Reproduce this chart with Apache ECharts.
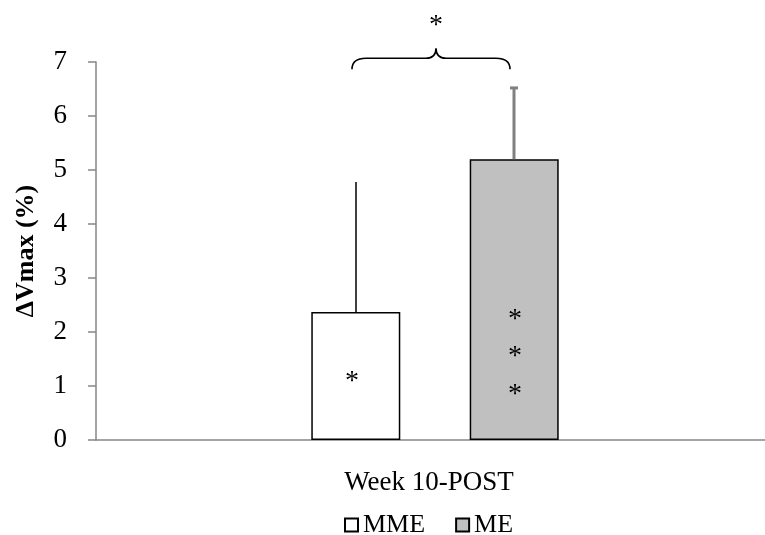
<!DOCTYPE html>
<html><head><meta charset="utf-8">
<script src="https://cdn.jsdelivr.net/npm/echarts@6/dist/echarts.min.js"></script>
<style>html,body{margin:0;padding:0;background:#fff}#c{width:765px;height:535px}</style>
</head><body><div id="c"></div>
<script>
const categories = ['Week 10-POST'];
const seriesNames = ['MME', 'ME'];
const mmeValues = [2.37];
const meValues = [5.2];
const mmeErrors = [2.41];
const meErrors = [1.32];
const yTicks = [0, 1, 2, 3, 4, 5, 6, 7];
const mmeStarY = [1.15];
const meStarY = [2.30, 1.61, 0.91];
const braceY = 7.07;

const FONT = '"Liberation Serif", "Times New Roman", serif';
const chart = echarts.init(document.getElementById('c'));
const BARW = 89, OFFSET = 79;

function errRender(off, color, w, cap) {
  return function (params, api) {
    const x = api.coord([api.value(0), 0])[0] + off;
    const top = api.coord([api.value(0), api.value(1) + api.value(2)])[1];
    const base = api.coord([api.value(0), api.value(1)])[1];
    const children = [{type: 'line', shape: {x1: x, y1: base, x2: x, y2: top}, style: {stroke: color, lineWidth: w}}];
    if (cap) children.push({type: 'line', shape: {x1: x - 4, y1: top, x2: x + 4, y2: top}, style: {stroke: color, lineWidth: 3}});
    return {type: 'group', children};
  };
}

function starRender(off) {
  return function (params, api) {
    const p = api.coord([api.value(0), api.value(1)]);
    return {type: 'text', x: p[0] + off, y: p[1] + 4,
      style: {text: '*', fontFamily: FONT, fontSize: 28, fill: '#000', align: 'center', verticalAlign: 'middle'}};
  };
}

function braceRender(params, api) {
  const cx = api.coord([api.value(0), 0])[0];
  const yt = api.coord([api.value(0), api.value(1)])[1];
  const xl = cx - 83, xr = cx + 75, xm = cx + 1;
  const yb = yt + 11, yp = yt - 10;
  return {type: 'group', children: [
    {type: 'path', shape: {pathData:
      `M${xl} ${yb} Q${xl} ${yt} ${xl + 14} ${yt} L${xm - 10} ${yt} Q${xm} ${yt} ${xm} ${yp} Q${xm} ${yt} ${xm + 10} ${yt} L${xr - 14} ${yt} Q${xr} ${yt} ${xr} ${yb}`},
      style: {stroke: '#000', lineWidth: 1.6, fill: 'none'}},
    {type: 'text', x: xm, y: yp - 23, style: {text: '*', fontFamily: FONT, fontSize: 28, fill: '#000', align: 'center', verticalAlign: 'middle'}}
  ]};
}

chart.setOption({
  animation: false,
  backgroundColor: '#fff',
  grid: {left: 96, width: 678, top: 62, bottom: 95, outerBoundsMode: 'none', containLabel: false},
  legend: {
    top: 507, left: 339, itemWidth: 13, itemHeight: 13, itemGap: 30, icon: 'rect',
    data: seriesNames,
    textStyle: {fontFamily: FONT, fontSize: 26, color: '#000'}
  },
  xAxis: {
    type: 'category', data: categories,
    axisLine: {lineStyle: {color: '#868686', width: 1.5}},
    axisTick: {show: false},
    axisLabel: {fontFamily: FONT, fontSize: 27, color: '#000', margin: 29, padding: [0, 12, 0, 0]}
  },
  yAxis: {
    type: 'value', min: yTicks[0], max: yTicks[yTicks.length - 1], interval: 1,
    name: 'ΔVmax (%)', nameLocation: 'middle', nameGap: 57, nameRotate: 90,
    nameTextStyle: {fontFamily: FONT, fontSize: 26, fontWeight: 'bold', color: '#000'},
    axisLine: {show: true, lineStyle: {color: '#868686', width: 1.5}},
    axisTick: {show: true, length: 8, lineStyle: {color: '#868686', width: 1.5}},
    axisLabel: {fontFamily: FONT, fontSize: 27, color: '#000', margin: 29},
    splitLine: {show: false}
  },
  series: [
    {name: 'MME', type: 'bar', data: mmeValues, barWidth: BARW, barGap: '78%',
     itemStyle: {color: '#fff', borderColor: '#000', borderWidth: 1.5}},
    {name: 'ME', type: 'bar', data: meValues, barWidth: BARW,
     itemStyle: {color: '#c0c0c0', borderColor: '#000', borderWidth: 1.5}},
    {type: 'custom', data: categories.map((c, i) => [i, mmeValues[i], mmeErrors[i]]),
     renderItem: errRender(-OFFSET, '#000', 1.5, false), z: 5, silent: true},
    {type: 'custom', data: categories.map((c, i) => [i, meValues[i], meErrors[i]]),
     renderItem: errRender(OFFSET, '#808080', 3, true), z: 5, silent: true},
    {type: 'custom', data: mmeStarY.map(v => [0, v]), renderItem: starRender(-OFFSET - 4), z: 6, silent: true},
    {type: 'custom', data: meStarY.map(v => [0, v]), renderItem: starRender(OFFSET + 1), z: 6, silent: true},
    {type: 'custom', data: [[0, braceY]], renderItem: braceRender, z: 6, silent: true, clip: false}
  ]
});
</script></body></html>
